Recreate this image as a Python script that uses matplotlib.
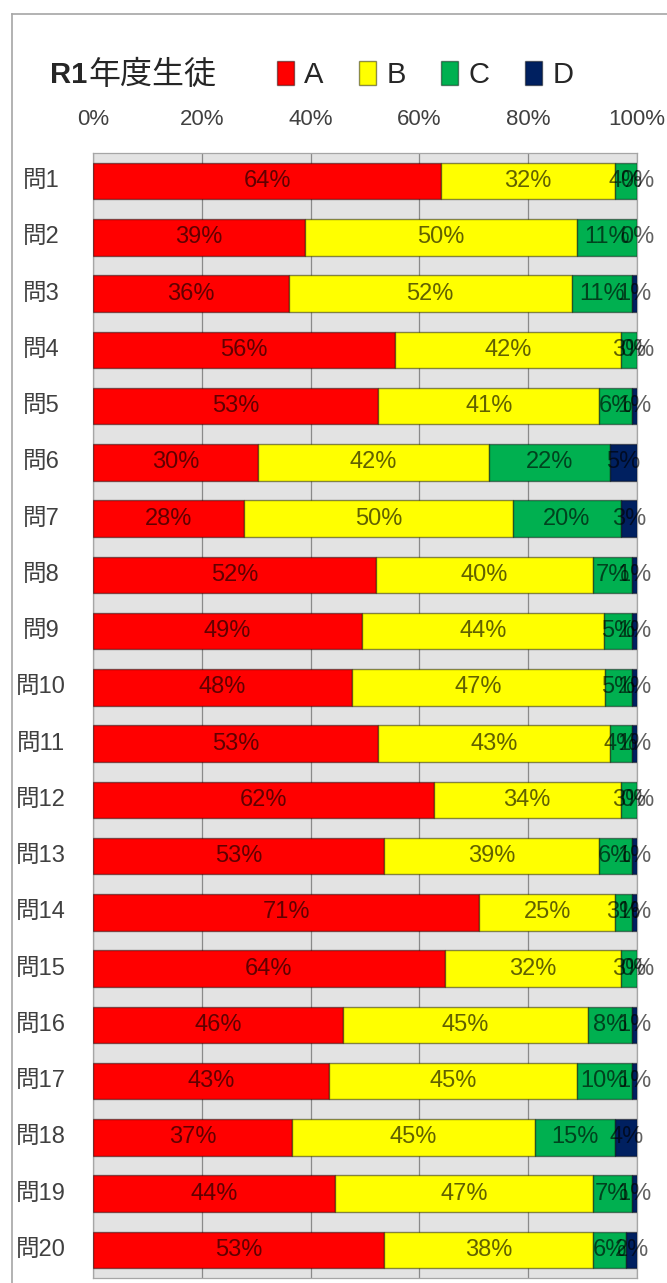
import numpy as np
import matplotlib.pyplot as plt
from matplotlib.lines import Line2D

plt.rcParams['font.family'] = ['Liberation Sans Narrow', 'Liberation Sans', 'Noto Sans CJK JP']

# data (percent of students per answer type)
questions = ["問1", "問2", "問3", "問4", "問5", "問6", "問7", "問8", "問9", "問10",
             "問11", "問12", "問13", "問14", "問15", "問16", "問17", "問18", "問19", "問20"]
a_pct = [64, 39, 36, 56, 53, 30, 28, 52, 49, 48, 53, 62, 53, 71, 64, 46, 43, 37, 44, 53]
b_pct = [32, 50, 52, 42, 41, 42, 50, 40, 44, 47, 43, 34, 39, 25, 32, 45, 45, 45, 47, 38]
c_pct = [4, 11, 11, 3, 6, 22, 20, 7, 5, 5, 4, 3, 6, 3, 3, 8, 10, 15, 7, 6]
d_pct = [0, 0, 1, 0, 1, 5, 3, 1, 1, 1, 1, 0, 1, 1, 0, 1, 1, 4, 1, 2]
series_names = ["A", "B", "C", "D"]
colors = ["#ff0000", "#ffff00", "#00b050", "#002060"]
xticks = [0, 20, 40, 60, 80, 100]

W, H = 667, 1283
fig = plt.figure(figsize=(W / 100, H / 100), dpi=100)

# outer chart border (cropped)
fig.add_artist(Line2D([12 / W, 12 / W], [0, 1 - 14 / H], color="#a6a6a6", lw=1.2))
fig.add_artist(Line2D([12 / W, 1], [1 - 14 / H, 1 - 14 / H], color="#a6a6a6", lw=1.2))

ax = fig.add_axes([93 / W, 1 - 1278 / H, (637 - 93) / W, (1278 - 153) / H])
ax.set_facecolor("#e3e3e3")

data = np.array([a_pct, b_pct, c_pct, d_pct], dtype=float)
shares = data / data.sum(axis=0) * 100
y = np.arange(len(questions))

left = np.zeros(len(questions))
handles = []
for i, name in enumerate(series_names):
    bars = ax.barh(y, shares[i], left=left, height=0.65, color=colors[i],
                   edgecolor=(0, 0, 0, 0.45), linewidth=1.0, label=name, zorder=3)
    handles.append(bars)
    for j in range(len(questions)):
        ax.text(left[j] + shares[i][j] / 2, y[j], f"{data[i][j]:.0f}%",
                ha="center", va="center", fontsize=17, color=(0, 0, 0, 0.62), zorder=4)
    left = left + shares[i]

ax.set_xlim(0, 100)
ax.set_ylim(len(questions) - 0.5, -0.5)
ax.set_xticks(xticks)
ax.set_xticklabels([f"{t}%" for t in xticks], fontsize=16, color="#404040")
ax.xaxis.tick_top()
ax.tick_params(axis="x", which="both", top=False, bottom=False, pad=13)
ax.set_yticks(y)
ax.set_yticklabels([])
ax.tick_params(axis="y", left=False)
for j, q in enumerate(questions):
    ax.text(-0.0956, y[j], q, transform=ax.get_yaxis_transform(), ha="center", va="center",
            fontsize=17, color="#404040")
ax.grid(axis="x", color="#8a8a8a", lw=0.9, zorder=1)
for s in ax.spines.values():
    s.set_color("#a6a6a6")
    s.set_linewidth(0.9)

# title
fig.text(50 / W, 1 - 75 / H, "R1", fontsize=21, fontweight="bold", color="#262626", va="center")
fig.text(88 / W, 1 - 75 / H, "年度生徒", fontsize=23, color="#262626", va="center",
         family=["Noto Sans CJK JP"])

leg = fig.legend(handles=handles, labels=series_names, loc="center left",
                 bbox_to_anchor=(265 / W, 1 - 75 / H), ncol=4, frameon=False,
                 fontsize=21, handlelength=0.6, handleheight=0.85, handletextpad=0.35,
                 columnspacing=1.2, borderaxespad=0)
for t in leg.get_texts():
    t.set_color("#262626")

fig.savefig("out.png", dpi=100)
